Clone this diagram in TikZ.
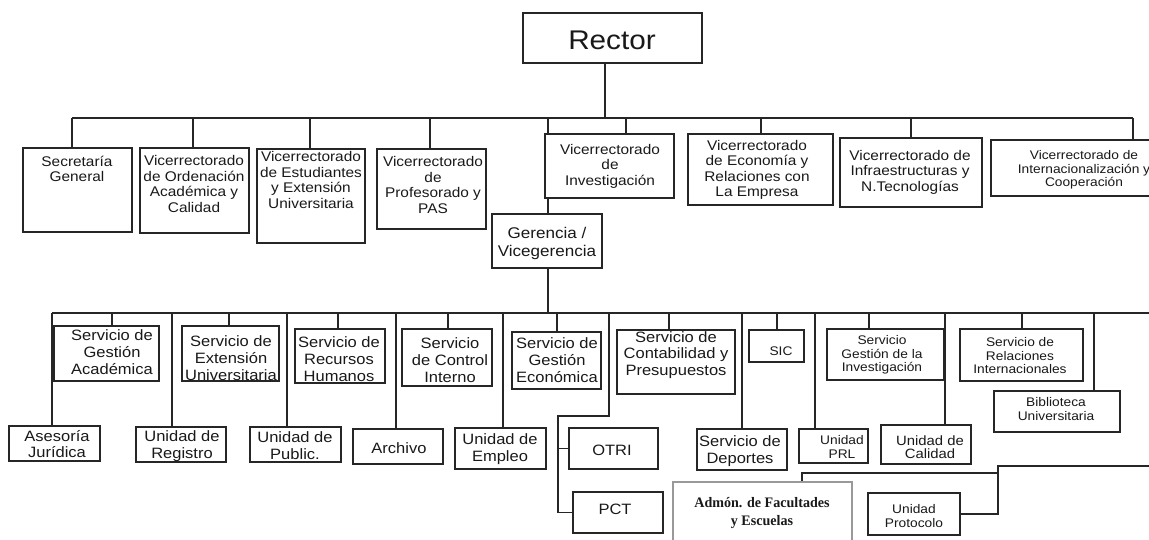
\documentclass[tikz,border=0pt]{standalone}
\usepackage{fontspec}
\setmainfont{Liberation Sans}[FakeStretch=1.1]
\newfontfamily\admfont{Liberation Serif}[FakeStretch=0.97]
\usetikzlibrary{fit}
\newcommand\fs[2]{\fontsize{#1}{#2}\selectfont}
\tikzset{
  box/.style={draw=black!85, line width=1.1pt, fill=white, inner sep=0pt},
  txt/.style={align=center, inner sep=0pt, text=black!90},
  ln/.style={draw=black!85, line width=1.1pt},
  ftop/.style={font=\fs{14}{15.5}},
  fint/.style={font=\fs{12.5}{13.7}},
  fger/.style={font=\fs{15.5}{18}},
  flow/.style={font=\fs{15}{16.8}},
  fsm/.style={font=\fs{12.5}{13.5}},
  fcal/.style={font=\fs{13.5}{13.5}},
  frec/.style={font=\fs{27}{30}},
}
% name, corner a, corner b, text position, text style, text
\newcommand\obox[6]{%
  \path (#2) coordinate (#1-a) (#3) coordinate (#1-b);
  \node[box, fit=(#1-a)(#1-b)] (#1) {};
  \node[txt, #5] (#1-t) at (#4) {#6};}
% drop from a bus point to the top of a node
\newcommand\drop[3]{%
  \coordinate (#1) at (#2);
  \draw[ln] (#1) -- (#1 |- #3.north);}
\begin{document}
\begin{tikzpicture}[x=1pt,y=-1pt]
\useasboundingbox (0,0) rectangle (1149,539);
\clip (0,0) rectangle (1149,539);
\fill[white] (0,0) rectangle (1149,539);

% ---------- top level ----------
\obox{rector}{523,13}{702,63}{612,40}{frec}{Rector}
\obox{sec}{23,148}{132,232}{77,169}{ftop}{Secretaría\\General}
\obox{ord}{140,148}{249,233}{194,184}{ftop}{Vicerrectorado\\de Ordenación\\Académica y\\Calidad}
\obox{est}{257,149}{365,243}{311,180}{ftop}{Vicerrectorado\\de Estudiantes\\y Extensión\\Universitaria}
\obox{prof}{377,149}{486,229}{433,185}{ftop}{Vicerrectorado\\de\\Profesorado y\\PAS}
\obox{inv}{545,134}{674,198}{610,166}{ftop}{Vicerrectorado\\de\\Investigación}
\obox{eco}{688,134}{833,205}{757,170}{ftop}{Vicerrectorado\\de Economía y\\Relaciones con\\La Empresa}
\obox{inf}{840,138}{982,207}{910,172}{ftop}{Vicerrectorado de\\Infraestructuras y\\N.Tecnologías}
\obox{intl}{991,140}{1175,196}{1084,170}{fint}{Vicerrectorado de\\Internacionalización y\\Cooperación}
\obox{ger}{492,214}{602,268}{547,243}{fger}{Gerencia /\\Vicegerencia}

% ---------- lower level ----------
\obox{ases}{9,426}{100,461}{57,444}{flow}{Asesoría\\Jurídica}
\obox{gacad}{54,326}{159,381}{112,352}{flow}{Servicio de\\Gestión\\Académica}
\obox{reg}{136,427}{226,462}{182,446}{flow}{Unidad de\\Registro}
\obox{ext}{182,326}{279,381}{231,358}{flow}{Servicio de\\Extensión\\Universitaria}
\obox{pub}{250,427}{341,462}{295,446}{flow}{Unidad de\\Public.}
\obox{rrhh}{295,329}{385,383}{339,359}{flow}{Servicio de\\Recursos\\Humanos}
\obox{arch}{353,429}{443,464}{399,448}{flow}{Archivo}
\obox{ctrl}{402,329}{492,386}{450,360}{flow}{Servicio\\de Control\\Interno}
\obox{empl}{455,428}{546,469}{500,449}{flow}{Unidad de\\Empleo}
\obox{gecon}{512,332}{601,389}{557,360}{flow}{Servicio de\\Gestión\\Económica}
\obox{otri}{569,428}{658,469}{612,450}{flow}{OTRI}
\obox{pct}{573,492}{663,533}{615,509}{flow}{PCT}
\obox{cont}{617,330}{735,394}{676,355}{flow}{Servicio de\\Contabilidad y\\Presupuestos}
\obox{dep}{697,429}{787,470}{740,451}{flow}{Servicio de\\Deportes}
\obox{sic}{749,330}{804,362}{781,351}{fsm}{SIC}
\obox{prl}{799,429}{868,463}{842,447}{fsm}{Unidad\\PRL}
\obox{ginv}{827,329}{944,380}{882,355}{fsm}{Servicio\\Gestión de la\\Investigación}
\obox{cal}{881,425}{971,464}{930,447}{fcal}{Unidad de\\Calidad}
\obox{rint}{960,329}{1083,381}{1020,356}{fsm}{Servicio de\\Relaciones\\Internacionales}
\obox{bib}{994,391}{1120,432}{1056,409}{fsm}{Biblioteca\\Universitaria}
\obox{prot}{868,493}{960,535}{914,516}{fsm}{Unidad\\Protocolo}
\path (673,482) coordinate (adm-a) (852,575) coordinate (adm-b);
\node[box, draw=black!40, line width=2.5pt, fit=(adm-a)(adm-b)] (adm) {};
\node[txt, font=\admfont\bfseries\fs{14.5}{18}] (adm-t) at (762,513) {Admón. de Facultades\\y Escuelas};

% ---------- connectors: top ----------
\coordinate (tbL) at (72,118);
\coordinate (tbR) at (1133,118);
\coordinate (rj) at (605,118);
\draw[ln] (rj |- rector.south) -- (rj);
\draw[ln] (tbL) -- (tbR);
\drop{jsec}{72,118}{sec}
\drop{jord}{193,118}{ord}
\drop{jest}{310,118}{est}
\drop{jprof}{430,118}{prof}
\drop{jger}{548,118}{inv}
\drop{jinv}{626,118}{inv}
\drop{jeco}{761,118}{eco}
\drop{jinf}{911,118}{inf}
\drop{jint}{1133,118}{intl}
\draw[ln] (jger |- inv.south) -- (jger |- ger.north);

% ---------- connectors: lower ----------
\coordinate (lbL) at (52,313);
\coordinate (lbR) at (1149,313);
\draw[ln] (lbL) -- (lbR);
\draw[ln] (jger |- ger.south) -- (jger |- lbL);
\drop{kases}{52,313}{ases}
\drop{kgacad}{112,313}{gacad}
\drop{kreg}{172,313}{reg}
\drop{kext}{229,313}{ext}
\drop{kpub}{287,313}{pub}
\drop{krrhh}{338,313}{rrhh}
\drop{karch}{396,313}{arch}
\drop{kctrl}{448,313}{ctrl}
\drop{kempl}{503,313}{empl}
\drop{kgecon}{557,313}{gecon}
\drop{kcont}{669,313}{cont}
\drop{kdep}{742,313}{dep}
\drop{ksic}{777,313}{sic}
\drop{kprl}{815,313}{prl}
\drop{kginv}{869,313}{ginv}
\drop{kcal}{945,313}{cal}
\drop{krint}{1022,313}{rint}
\drop{kbib}{1094,313}{bib}
% OTRI / PCT branch
\coordinate (p1) at (609,313);
\coordinate (p2) at (609,416);
\coordinate (p3) at (558,416);
\draw[ln] (p1) -- (p2) -- (p3) -- (p3 |- pct.west) -- (pct.west);
\draw[ln] (p3 |- otri.west) -- (otri.west);
% Admón / Protocolo branch
\coordinate (m1) at (802,473);
\coordinate (m2) at (998,473);
\coordinate (m3) at (998,466);
\coordinate (m4) at (1149,466);
\draw[ln] (m1 |- adm.north) -- (m1) -- (m2);
\draw[ln] (m4) -- (m3) -- (m3 |- prot.east) -- (prot.east);
\end{tikzpicture}
\end{document}
